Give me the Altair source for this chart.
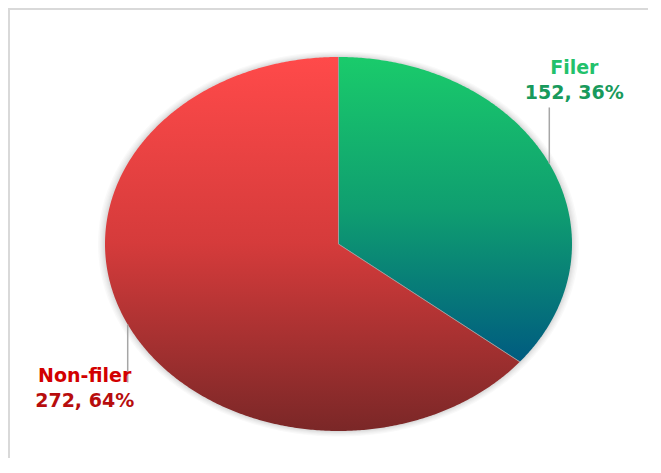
import altair as alt
import numpy as np
import pandas as pd

# ---- data ----
categories = ["Filer", "Non-filer"]
values = [152, 272]
percent_labels = ["36%", "64%"]

# ---- styles ----
W, H = 640, 450
xs = alt.Scale(domain=[-1, 1], range=[97, 564])
ys = alt.Scale(domain=[-1, 1], range=[423, 49])

styles = {
    "Filer": dict(
        grad=[("#1acb6b", 0), ("#0f9e70", 0.5), ("#005b80", 1)],
        name_color="#22c16b", value_color="#189a5c",
        dx=25, dy_name=-33, dy_value=-8, lead=0.30,
    ),
    "Non-filer": dict(
        grad=[("#ff4a4a", 0), ("#d53b3b", 0.5), ("#7a2727", 1)],
        name_color="#d20000", value_color="#b70d0d",
        dx=-43, dy_name=0, dy_value=25, lead=-0.31,
    ),
}

# ---- build slice outlines from the values ----
total = sum(values)
fr = np.array(values, dtype=float) / total
starts = np.concatenate([[0.0], np.cumsum(fr)[:-1]])
ends = np.cumsum(fr)

rows = []
for cat, s, e in zip(categories, starts, ends):
    n = max(int((e - s) * 720), 4)
    rows.append(dict(cat=cat, x=0.0, y=0.0, o=0))
    for k, t in enumerate(np.linspace(s, e, n)):
        th = 2 * np.pi * t
        rows.append(dict(cat=cat, x=float(np.sin(th)), y=float(np.cos(th)), o=k + 1))
    rows.append(dict(cat=cat, x=0.0, y=0.0, o=n + 1))
slices = pd.DataFrame(rows)

glow_factors = [1.03, 1.024, 1.018, 1.013, 1.009, 1.005]
glow_rows = []
for ring, f in enumerate(glow_factors):
    for k, t in enumerate(np.linspace(0, 1, 721)):
        th = 2 * np.pi * t
        glow_rows.append(dict(ring=ring, x=float(f * np.sin(th)), y=float(f * np.cos(th)), o=k))
glow = pd.DataFrame(glow_rows)

radii = pd.DataFrame({
    "cat": categories,
    "x": [float(np.sin(2 * np.pi * s)) for s in starts],
    "y": [float(np.cos(2 * np.pi * s)) for s in starts],
    "x0": [0.0] * len(categories),
    "y0": [0.0] * len(categories),
})

mids = (starts + ends) / 2
labels = pd.DataFrame({
    "cat": categories,
    "lx": [float(np.sin(2 * np.pi * m)) for m in mids],
    "ly": [float(np.cos(2 * np.pi * m)) for m in mids],
    "name": categories,
    "val": [f"{v}, {p}" for v, p in zip(values, percent_labels)],
})

X = lambda f: alt.X(f, scale=xs, axis=None)
Y = lambda f: alt.Y(f, scale=ys, axis=None)

layers = []

# soft glow around the ellipse
for ring in range(len(glow_factors)):
    layers.append(
        alt.Chart(glow).transform_filter(alt.datum.ring == ring)
        .mark_line(fill="#000000", fillOpacity=0.022, strokeOpacity=0)
        .encode(x=X("x:Q"), y=Y("y:Q"), order="o:Q")
    )

for cat in categories:
    st = styles[cat]
    grad = alt.Gradient(
        gradient="linear",
        stops=[alt.GradientStop(color=c, offset=o) for c, o in st["grad"]],
        x1=0, x2=0, y1=0, y2=1,
    )
    layers.append(
        alt.Chart(slices).transform_filter(alt.datum.cat == cat)
        .mark_line(fill=grad, strokeOpacity=0)
        .encode(x=X("x:Q"), y=Y("y:Q"), order="o:Q")
    )

layers.append(
    alt.Chart(radii).mark_rule(color="#9e9e9e", strokeWidth=1)
    .encode(x=X("x0:Q"), y=Y("y0:Q"), x2="x:Q", y2="y:Q")
)

for cat in categories:
    st = styles[cat]
    base = alt.Chart(labels).transform_filter(alt.datum.cat == cat)
    end_calc = base.transform_calculate(ly2=f"datum.ly + {st['lead']}")
    layers.append(
        end_calc.mark_rule(color="#a6a6a6", strokeWidth=1.5)
        .encode(x=X("lx:Q"), y=Y("ly:Q"), y2="ly2:Q")
    )
    layers.append(
        end_calc.mark_text(font="DejaVu Sans", fontWeight="bold", fontSize=19,
                           color=st["name_color"], align="center", baseline="alphabetic",
                           dx=st["dx"], dy=st["dy_name"])
        .encode(x=X("lx:Q"), y=Y("ly2:Q"), text="name:N")
    )
    layers.append(
        end_calc.mark_text(font="DejaVu Sans", fontWeight="bold", fontSize=19,
                           color=st["value_color"], align="center", baseline="alphabetic",
                           dx=st["dx"], dy=st["dy_value"])
        .encode(x=X("lx:Q"), y=Y("ly2:Q"), text="val:N")
    )

# chart frame (left and top edges visible in the reference)
frame = pd.DataFrame({"k": [0]})
layers.append(
    alt.Chart(frame).mark_rule(color="#d9d9d9", strokeWidth=2)
    .encode(x=alt.value(1), y=alt.value(0), y2=alt.value(H))
)
layers.append(
    alt.Chart(frame).mark_rule(color="#d9d9d9", strokeWidth=2)
    .encode(y=alt.value(1), x=alt.value(0), x2=alt.value(W))
)

chart = (
    alt.layer(*layers)
    .properties(width=W, height=H, padding=0, autosize=alt.AutoSizeParams(type="none"))
    .configure_view(stroke=None)
)

chart.save("out.html", embed_options={"renderer": "svg", "actions": False})
